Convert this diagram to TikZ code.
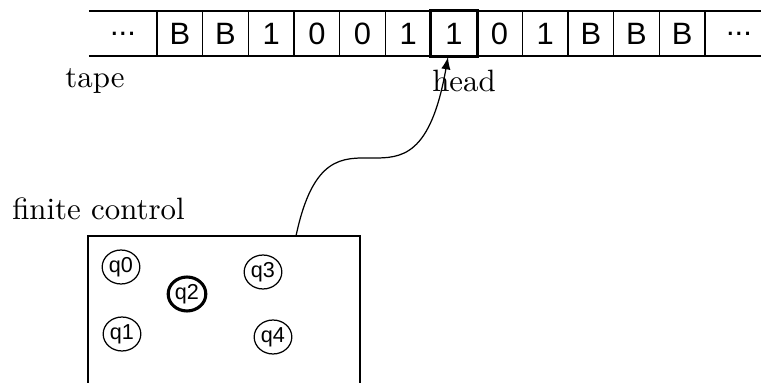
\documentclass[tikz,border=0pt]{standalone}
\usepackage{fontspec}
\setsansfont{Liberation Sans}
\usetikzlibrary{shapes.geometric}
\tikzset{
  cell/.style={draw, inner sep=0pt, minimum width=14.8pt, minimum height=14.6pt, font=\sffamily\fontsize{10}{12}\selectfont},
  state/.style={draw, ellipse, inner sep=0pt, minimum width=12.2pt, minimum height=11pt, font=\sffamily\fontsize{7}{8}\selectfont}
}
\begin{document}
\begin{tikzpicture}[x=0.324pt, y=-0.324pt]
\useasboundingbox (0,0) rectangle (761,383);
% tape
\draw (89,11) -- (790,11);
\draw (89,56) -- (790,56);
\node[font=\sffamily\fontsize{10}{12}\selectfont] (dotl) at (123,33.5) {...};
\foreach \s [count=\i] in {B,B,1,0,0,1,1,0,1,B,B,B}
  \node[cell] (c\i) at (157+45.67*\i-22.83,33.5) {\s};
\node[font=\sffamily\fontsize{10}{12}\selectfont] (dotr) at (739,33.5) {...};
\draw[line width=1pt] (c7.south west) rectangle (c7.north east);
\node[anchor=base] (tape) at (95,88) {tape};
\node[anchor=base] (head) at (464,91) {head};
% finite control
\node[anchor=base] (fclabel) at (98.5,219) {finite control};
\draw (88,400) -- (88,236) -- (360,236) -- (360,400);
\node[state] (q0) at (121,267) {q0};
\node[state] (q1) at (122,334) {q1};
\node[state, line width=1pt] (q2) at (187,294) {q2};
\node[state] (q3) at (263,272) {q3};
\node[state] (q4) at (273,337) {q4};
\coordinate (src) at (296,236);
\coordinate (tip) at (448,57);
\draw[-latex] (src) .. controls (330,75) and (415,245) .. (tip);
\end{tikzpicture}
\end{document}
